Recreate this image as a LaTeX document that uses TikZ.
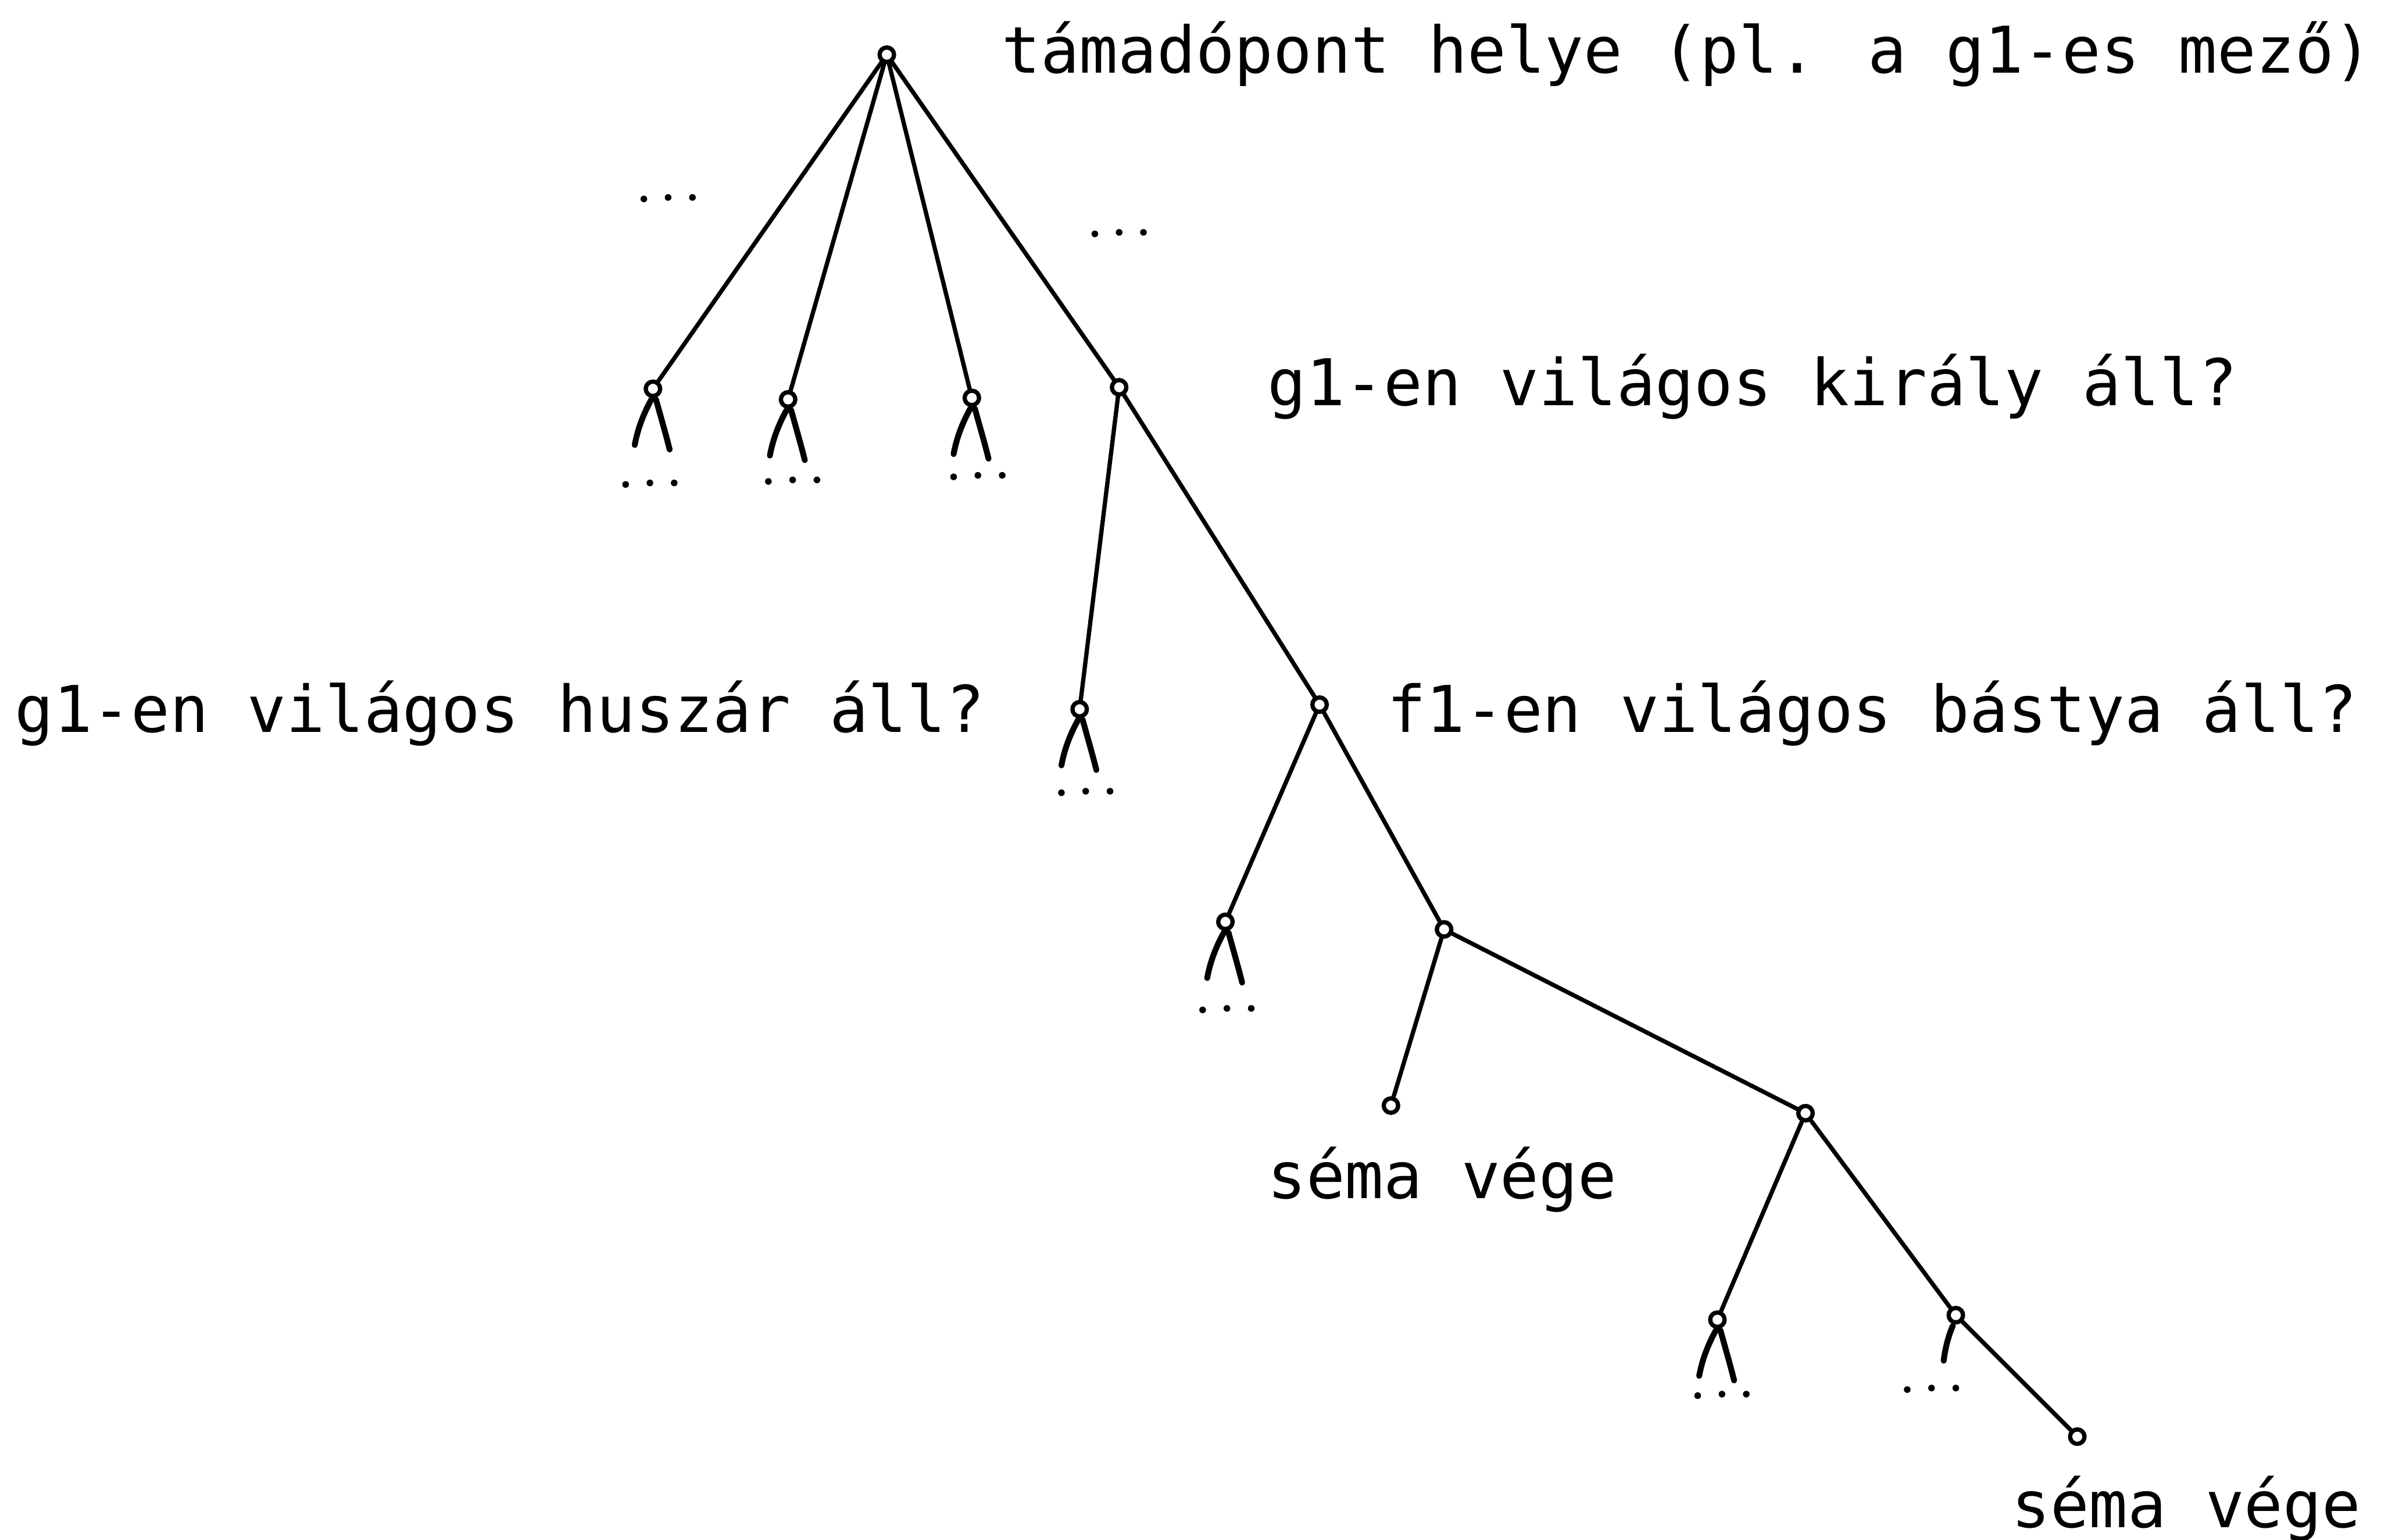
\documentclass[tikz,border=0pt]{standalone}
\usepackage{fontspec}
\newfontfamily\tw{DejaVu Sans Mono}
\begin{document}
\begin{tikzpicture}[x={(0.01cm,0)},y={(0,-0.01cm)},
  line cap=round, line join=round,
  pt/.style={circle,draw,line width=0.8pt,inner sep=0pt,minimum size=0.095cm},
  edge/.style={line width=0.8pt},
  leg/.style={line width=1.1pt},
  lbl/.style={anchor=base west,inner sep=0pt,font=\tw\fontsize{12.07pt}{14pt}\selectfont},
  tridots/.pic={\fill (-16,1) circle[radius=2.2]; \fill (0,0) circle[radius=2.2]; \fill (16,0) circle[radius=2.2];},
  lam/.pic={\draw[leg] (-1,7) .. controls (-6,16) and (-10,26) .. (-12,37);
            \draw[leg] (2,7) .. controls (5,18) and (8,28) .. (11,40);},
  lamleft/.pic={\draw[leg] (-2,7) .. controls (-5,14) and (-7,22) .. (-8,30);}
]
\useasboundingbox (0,0) rectangle (1568,1014);
% tree nodes
\node[pt] (R)  at (584,36) {};
\node[pt] (A1) at (430,256) {};
\node[pt] (A2) at (519,263) {};
\node[pt] (A3) at (640,262) {};
\node[pt] (K)  at (737,255) {};
\node[pt] (H)  at (711,467) {};
\node[pt] (B)  at (869,464) {};
\node[pt] (C1) at (807,607) {};
\node[pt] (D)  at (951,612) {};
\node[pt] (E)  at (916,728) {};
\node[pt] (F)  at (1189,733) {};
\node[pt] (G1) at (1131,869) {};
\node[pt] (G2) at (1288,866) {};
\node[pt] (S)  at (1368,946) {};
% edges
\draw[edge] (R) -- (A1);
\draw[edge] (R) -- (A2);
\draw[edge] (R) -- (A3);
\draw[edge] (R) -- (K);
\draw[edge] (K) -- (H);
\draw[edge] (K) -- (B);
\draw[edge] (B) -- (C1);
\draw[edge] (B) -- (D);
\draw[edge] (D) -- (E);
\draw[edge] (D) -- (F);
\draw[edge] (F) -- (G1);
\draw[edge] (F) -- (G2);
\draw[edge] (G2) -- (S);
% open sub-branches
\pic at (A1) {lam};
\pic at (A2) {lam};
\pic at (A3) {lam};
\pic at (H) {lam};
\pic at (C1) {lam};
\pic at (G1) {lam};
\pic at (G2) {lamleft};
% ellipses
\pic at (440,130) {tridots};
\pic at (737,153) {tridots};
\pic at (428,318) {tridots};
\pic at (522,316) {tridots};
\pic at (644,313) {tridots};
\pic at (715,521) {tridots};
\pic at (808,664) {tridots};
\pic at (1134,918) {tridots};
\pic at (1272,914) {tridots};
% labels
\node[lbl] (t1) at (659,48) {támadópont helye (pl. a g1-es mező)};
\node[lbl] (t2) at (834,267) {g1-en világos király áll?};
\node[lbl] (t3) at (9,482) {g1-en világos huszár áll?};
\node[lbl] (t4) at (913,482) {f1-en világos bástya áll?};
\node[lbl] (t5) at (834,789) {séma vége};
\node[lbl] (t6) at (1324,1006) {séma vége};
\end{tikzpicture}
\end{document}
